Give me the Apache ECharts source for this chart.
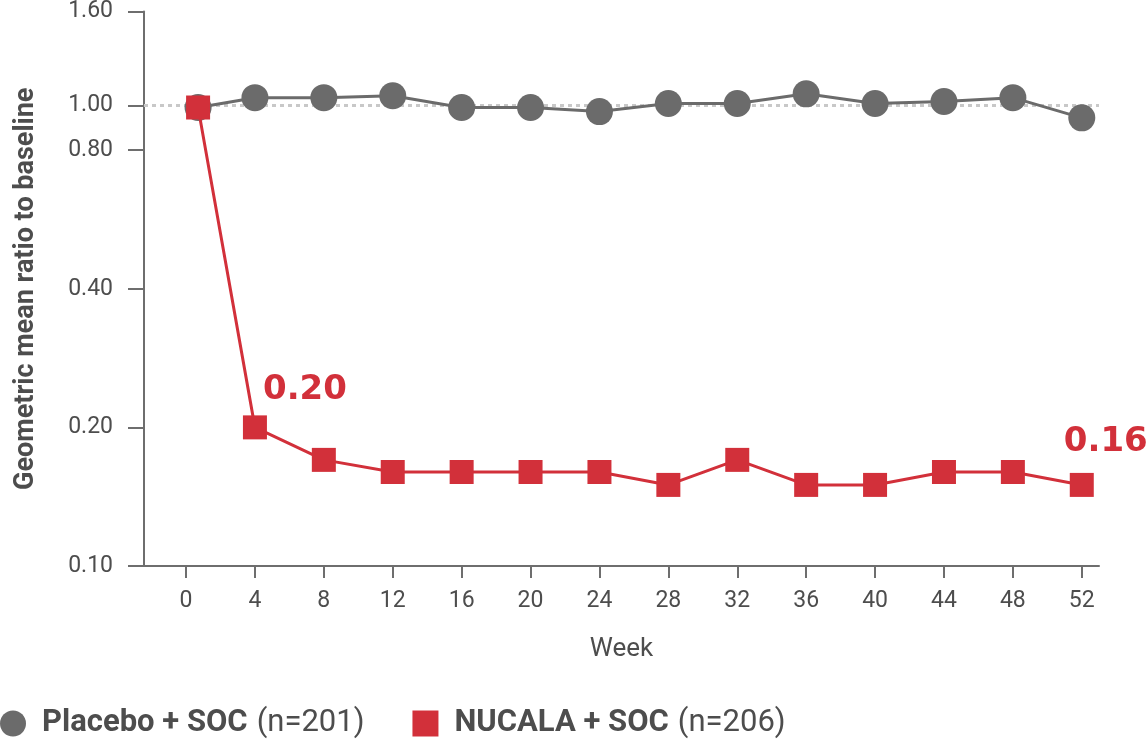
<!DOCTYPE html>
<html>
<head>
<meta charset="utf-8">
<script src="https://cdn.jsdelivr.net/npm/echarts@6/dist/echarts.min.js"></script>
<style>
html,body{margin:0;padding:0;background:#fff;}
#chart{width:1146px;height:741px;}
</style>
</head>
<body>
<div id="chart"></div>
<script>
// ---- data ----
var weekTicks = [0, 4, 8, 12, 16, 20, 24, 28, 32, 36, 40, 44, 48, 52];
var pointWeeks = [0.7, 4, 8, 12, 16, 20, 24, 28, 32, 36, 40, 44, 48, 52];
var yTicks = [0.10, 0.20, 0.40, 0.80, 1.00, 1.60];
var seriesNames = ['Placebo + SOC', 'NUCALA + SOC'];
var seriesN = ['(n=201)', '(n=206)'];
var placebo = [0.99, 1.04, 1.04, 1.05, 0.99, 0.99, 0.97, 1.01, 1.01, 1.06, 1.01, 1.02, 1.04, 0.94];
var nucala = [0.99, 0.20, 0.17, 0.16, 0.16, 0.16, 0.16, 0.15, 0.17, 0.15, 0.15, 0.16, 0.16, 0.15];
var callouts = [{ week: 4, text: '0.20' }, { week: 52, text: '0.16' }];
var referenceLine = 1.00;

// ---- chart ----
var GRAY = '#6b6b6b';
var RED = '#d2303a';
var AXIS = '#6e6e6e';
var TXT = '#4d4d4d';
var FONT = 'Roboto, "Noto Sans", sans-serif';

function lg(v) { return Math.log10(v); }

var calloutOffsets = { 4: [50, -37], 52: [24, -43] };

function buildData(values, withLabels) {
  return values.map(function (v, i) {
    var item = { value: [pointWeeks[i], lg(v)] };
    if (withLabels) {
      callouts.forEach(function (c) {
        if (c.week === pointWeeks[i]) {
          item.label = {
            show: true,
            formatter: c.text,
            position: 'inside',
            offset: calloutOffsets[c.week] || [30, -40],
            color: RED,
            fontFamily: '"DejaVu Sans", sans-serif',
            fontWeight: 'bold',
            fontSize: 34
          };
        }
      });
    }
    return item;
  });
}

var chart = echarts.init(document.getElementById('chart'), null, { renderer: 'canvas' });
chart.setOption({
  animation: false,
  backgroundColor: '#fff',
  grid: { left: 144, right: 47, top: 11.5, bottom: 175 },
  xAxis: {
    type: 'value',
    min: -2.44,
    max: 53,
    name: 'Week',
    nameLocation: 'middle',
    nameGap: 70,
    nameTextStyle: { fontFamily: FONT, fontSize: 26, color: TXT },
    axisLine: { show: true, onZero: false, lineStyle: { color: AXIS, width: 2 } },
    axisTick: { show: true, length: 12, customValues: weekTicks, lineStyle: { color: AXIS, width: 2 } },
    axisLabel: { customValues: weekTicks, margin: 24, fontFamily: FONT, fontSize: 23, color: TXT },
    splitLine: { show: false }
  },
  yAxis: {
    type: 'value',
    min: lg(yTicks[0]),
    max: lg(yTicks[yTicks.length - 1]),
    name: 'Geometric mean ratio to baseline',
    nameLocation: 'middle',
    nameGap: 104,
    nameTextStyle: { fontFamily: FONT, fontSize: 27, fontWeight: 'bold', color: TXT },
    axisLine: { show: true, onZero: false, lineStyle: { color: AXIS, width: 2 } },
    axisTick: { show: true, length: 16, customValues: yTicks.map(lg), lineStyle: { color: AXIS, width: 2 } },
    axisLabel: {
      customValues: yTicks.map(lg),
      margin: 31,
      fontFamily: FONT, fontSize: 23, color: TXT,
      formatter: function (v) { return Math.pow(10, v).toFixed(2); }
    },
    splitLine: { show: false }
  },
  legend: {
    left: 0,
    top: 708,
    padding: 0,
    itemWidth: 26,
    itemHeight: 26,
    itemGap: 48,
    data: [
      { name: seriesNames[0], icon: 'circle' },
      { name: seriesNames[1], icon: 'rect' }
    ],
    formatter: function (name) {
      var i = seriesNames.indexOf(name);
      return '{b|' + name + '}{r|' + seriesN[i] + '}';
    },
    textStyle: {
      rich: {
        b: { fontFamily: FONT, fontSize: 31, fontWeight: 'bold', color: TXT, padding: [0, 0, 0, 11] },
        r: { fontFamily: FONT, fontSize: 31, color: TXT, padding: [0, 0, 0, 9] }
      }
    }
  },
  series: [
    {
      name: seriesNames[0],
      type: 'line',
      data: buildData(placebo, false),
      symbol: 'circle',
      symbolSize: 27,
      color: GRAY,
      lineStyle: { color: GRAY, width: 3 },
      itemStyle: { color: GRAY },
      z: 3,
      markLine: {
        silent: true,
        symbol: 'none',
        label: { show: false },
        lineStyle: { color: '#c8c8c8', width: 3, type: [4, 4] },
        data: [{ yAxis: lg(referenceLine) }],
        z: 1
      }
    },
    {
      name: seriesNames[1],
      type: 'line',
      data: buildData(nucala, true),
      symbol: 'rect',
      symbolSize: 24,
      color: RED,
      lineStyle: { color: RED, width: 3 },
      itemStyle: { color: RED },
      z: 4
    }
  ]
});
</script>
</body>
</html>
